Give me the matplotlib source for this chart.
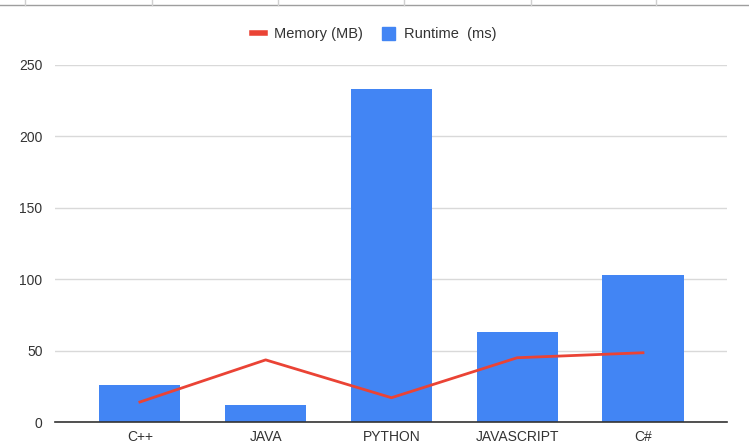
import matplotlib.pyplot as plt
from matplotlib.lines import Line2D

plt.rcParams['font.family'] = ['Liberation Sans', 'DejaVu Sans']

# data
languages = ['C++', 'JAVA', 'PYTHON', 'JAVASCRIPT', 'C#']
runtime_ms = [26, 12, 233, 63, 103]
memory_mb = [14, 43.5, 17, 45, 48.5]

fig = plt.figure(figsize=(7.49, 4.46), dpi=100)
W, H = 749, 446
# axes area in pixels: x 55..727, y 65(=250)..422(=0)
ax = fig.add_axes([55 / W, (H - 422) / H, (727 - 55) / W, (422 - 65) / H])

x = range(len(languages))
ax.bar(x, runtime_ms, width=0.645, color='#4285F4', zorder=2, label='Runtime  (ms)')
ax.plot(x, memory_mb, color='#EA4335', linewidth=2, zorder=3, label='Memory (MB)')

ax.set_xlim(-0.675, 4.668)
ax.set_ylim(0, 250)
ax.set_yticks([0, 50, 100, 150, 200, 250])
ax.set_xticks(list(x))
ax.set_xticklabels(languages)
ax.grid(axis='y', color='#d9d9d9', linewidth=1, zorder=0)
ax.tick_params(length=0, labelsize=10, colors='#333333')
ax.tick_params(axis='y', pad=9)
ax.tick_params(axis='x', pad=6)
for side in ['top', 'right', 'left']:
    ax.spines[side].set_visible(False)
ax.spines['bottom'].set_color('#333333')
ax.spines['bottom'].set_linewidth(1.2)

# legend above the plot
handles = [Line2D([0], [0], color='#EA4335', linewidth=4),
           plt.Rectangle((0, 0), 1, 1, color='#4285F4')]
fig.legend(handles, ['Memory (MB)', 'Runtime  (ms)'], loc='center',
           bbox_to_anchor=(374 / W, 1 - 34 / H), ncol=2, frameon=False,
           fontsize=10.5, handlelength=0.9, handleheight=1.0,
           columnspacing=1.3, handletextpad=0.6, labelcolor='#333333')

# spreadsheet cell borders at the top of the screenshot
fig.add_artist(Line2D([0, 1], [1 - 5 / H, 1 - 5 / H], color='#9e9e9e', linewidth=1))
for px in [25, 152, 278, 404, 531, 656]:
    fig.add_artist(Line2D([px / W, px / W], [1, 1 - 5 / H], color='#d0d0d0', linewidth=1))

fig.savefig('out.png', dpi=100)
